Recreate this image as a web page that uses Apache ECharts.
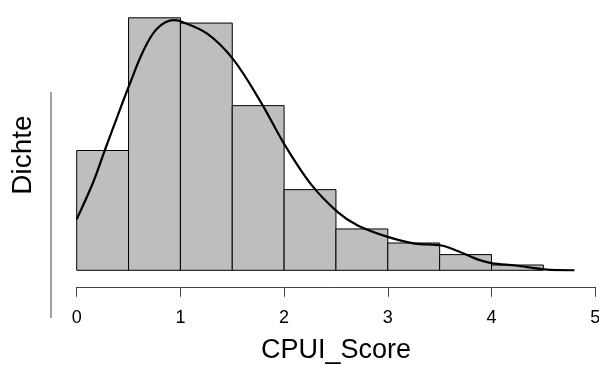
<!DOCTYPE html>
<html>
<head>
<meta charset="utf-8">
<script src="https://cdn.jsdelivr.net/npm/echarts@6/dist/echarts.min.js"></script>
<style>html,body{margin:0;padding:0;background:#fff}#c{width:599px;height:365px}</style>
</head>
<body>
<div id="c"></div>
<script>
// Histogram bins (CPUI_Score) and densities
const binStarts = [0, 0.5, 1, 1.5, 2, 2.5, 3, 3.5, 4];
const binEnds   = [0.5, 1, 1.5, 2, 2.5, 3, 3.5, 4, 4.5];
const binDensity = [0.251, 0.529, 0.518, 0.345, 0.169, 0.0866, 0.0572, 0.0329, 0.0111];

// Kernel density curve (x, density)
const densX = [0, 0.16, 0.27, 0.39, 0.5, 0.645, 0.774, 0.935, 1.0, 1.258, 1.506, 1.774, 2.0, 2.26, 2.517, 2.71, 3.0, 3.26, 3.517, 3.68, 3.84, 4.0, 4.23, 4.51, 4.8];
const densY = [0.107, 0.185, 0.251, 0.321, 0.384, 0.461, 0.506, 0.524, 0.522, 0.496, 0.443, 0.353, 0.265, 0.18, 0.122, 0.094, 0.070, 0.056, 0.052, 0.040, 0.025, 0.015, 0.010, 0.002, 0.0];

const xTicks = [0, 1, 2, 3, 4, 5];

const FONT = 'Liberation Sans, Arial, Helvetica, sans-serif';
const chart = echarts.init(document.getElementById('c'), null, {renderer: 'canvas'});

const histData = binStarts.map((s, i) => [s, binEnds[i], binDensity[i]]);
const curveData = densX.map((x, i) => [x, densY[i]]);

chart.setOption({
  animation: false,
  backgroundColor: '#ffffff',
  grid: {left: 76.7, right: 3.8, top: 7.8, bottom: 94.7, containLabel: false, outerBoundsMode: 'none'},
  xAxis: {
    type: 'value', min: xTicks[0], max: xTicks[xTicks.length - 1], interval: 1,
    position: 'bottom', offset: 16.5,
    axisLine: {show: true, onZero: false, lineStyle: {color: '#444', width: 1}},
    axisTick: {show: true, length: 10, lineStyle: {color: '#444', width: 1}},
    axisLabel: {show: true, color: '#000', fontSize: 18, fontFamily: FONT, margin: 22},
    splitLine: {show: false},
    name: 'CPUI_Score', nameLocation: 'middle', nameGap: 50,
    nameTextStyle: {color: '#000', fontSize: 27, fontFamily: FONT, lineHeight: 27}
  },
  yAxis: {
    type: 'value', min: 0, max: 0.55, show: false
  },
  graphic: [
    {type: 'line', shape: {x1: 51, y1: 92, x2: 51, y2: 318}, style: {stroke: '#444', lineWidth: 1}},
    {type: 'text', x: 23.5, y: 155, rotation: Math.PI / 2,
     style: {text: 'Dichte', font: '28px ' + FONT, fill: '#000', align: 'center', verticalAlign: 'middle'}}
  ],
  series: [
    {
      type: 'custom',
      data: histData,
      encode: {x: [0, 1], y: 2},
      renderItem: function (params, api) {
        const p0 = api.coord([api.value(0), 0]);
        const p1 = api.coord([api.value(1), api.value(2)]);
        return {
          type: 'rect',
          shape: {x: p0[0], y: p1[1], width: p1[0] - p0[0], height: p0[1] - p1[1]},
          style: {fill: '#bebebe', stroke: '#000', lineWidth: 1}
        };
      },
      z: 1
    },
    {
      type: 'line',
      data: curveData,
      smooth: 0.35,
      showSymbol: false,
      lineStyle: {color: '#000', width: 2.2},
      z: 3
    }
  ]
});
</script>
</body>
</html>
